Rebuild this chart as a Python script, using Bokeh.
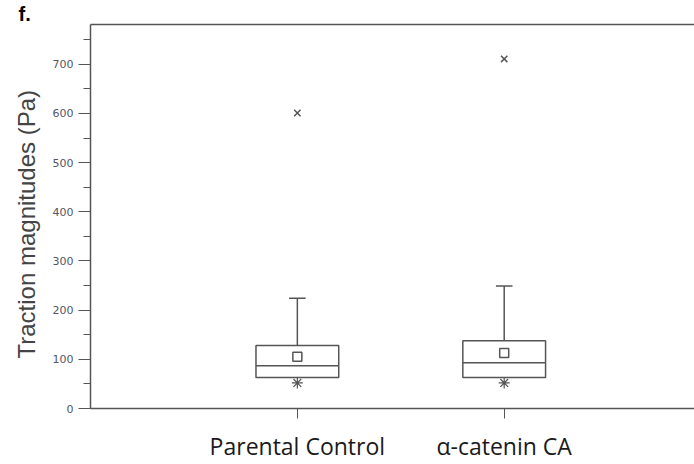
import math
from bokeh.plotting import figure
from bokeh.models import Range1d, FixedTicker, SingleIntervalTicker, LinearAxis, Title, ColumnDataSource
from bokeh.embed import file_html
from bokeh.resources import INLINE

categories = ["Parental Control", "α-catenin CA"]
positions = [1, 2]
q1 = [63, 63]
q3 = [128, 138]
median = [87, 93]
mean = [105, 113]
whisker_high = [224, 249]
minimum = [52, 52]
outlier = [601, 711]
y_ticks_major = 100

GRAY = "#555555"
box_w = 0.40
cap_w = 0.08

p = figure(width=694, height=464, output_backend="svg", toolbar_location=None,
           x_range=Range1d(0, 2.92), y_range=Range1d(0, 781),
           min_border_left=90, min_border_right=0, min_border_top=18, min_border_bottom=56)
p.outline_line_color = None
p.grid.visible = False
p.background_fill_color = "white"
p.border_fill_color = "white"

src = ColumnDataSource(dict(x=positions, q1=q1, q3=q3, med=median, mean=mean,
                            hi=whisker_high, mn=minimum, out=outlier,
                            cl=[x - cap_w / 2 for x in positions],
                            cr=[x + cap_w / 2 for x in positions],
                            bl=[x - box_w / 2 for x in positions],
                            br=[x + box_w / 2 for x in positions]))

p.segment(x0="x", y0="q3", x1="x", y1="hi", source=src, line_color=GRAY, line_width=1.5)
p.segment(x0="cl", y0="hi", x1="cr", y1="hi", source=src, line_color=GRAY, line_width=1.5)
p.vbar(x="x", width=box_w, bottom="q1", top="q3", source=src, fill_color=None,
       line_color=GRAY, line_width=1.5)
p.segment(x0="bl", y0="med", x1="br", y1="med", source=src, line_color=GRAY, line_width=1.5)
p.scatter(x="x", y="mean", source=src, marker="square", size=9, fill_color=None,
          line_color=GRAY, line_width=1.5)
p.scatter(x="x", y="mn", source=src, marker="asterisk", size=11, line_color=GRAY, line_width=1.2)
p.scatter(x="x", y="out", source=src, marker="x", size=9, line_color=GRAY, line_width=1.5)

xa = p.xaxis[0]
xa.ticker = FixedTicker(ticks=positions)
xa.major_label_overrides = {positions[i]: categories[i] for i in range(len(categories))}
xa.axis_line_color = GRAY
xa.axis_line_width = 1.5
xa.major_tick_line_color = GRAY
xa.major_tick_in = 0
xa.major_tick_out = 10
xa.minor_tick_line_color = None
xa.major_label_text_font = "Open Sans"
xa.major_label_text_font_size = "23px"
xa.major_label_text_color = "#1a1a1a"
xa.major_label_standoff = 11

ya = p.yaxis[0]
ya.ticker = SingleIntervalTicker(interval=y_ticks_major, num_minor_ticks=2)
ya.axis_line_color = GRAY
ya.axis_line_width = 1.5
ya.major_tick_line_color = GRAY
ya.minor_tick_line_color = GRAY
ya.major_tick_in = 0
ya.major_tick_out = 12
ya.minor_tick_in = 0
ya.minor_tick_out = 7
ya.major_label_text_font = "DejaVu Sans"
ya.major_label_text_font_size = "11px"
ya.major_label_text_color = "#555566"
ya.major_label_standoff = 5

top = LinearAxis(ticker=FixedTicker(ticks=[]), axis_line_color=GRAY, axis_line_width=1.5,
                 major_tick_line_color=None, minor_tick_line_color=None,
                 major_label_text_font_size="0px", major_label_standoff=0,
                 major_tick_out=0, minor_tick_out=0)
p.add_layout(top, "above")

p.add_layout(Title(text="Traction magnitudes (Pa)", align="left", offset=50, standoff=20,
                   text_font="Liberation Sans", text_font_size="24px",
                   text_font_style="normal", text_color="#444444"), "left")
p.add_layout(Title(text="f.", align="left", offset=-72, standoff=0,
                   text_font="Liberation Sans", text_font_style="bold",
                   text_font_size="20px", text_color="#000000"), "above")

open("out.html", "w").write(file_html(p, INLINE))
